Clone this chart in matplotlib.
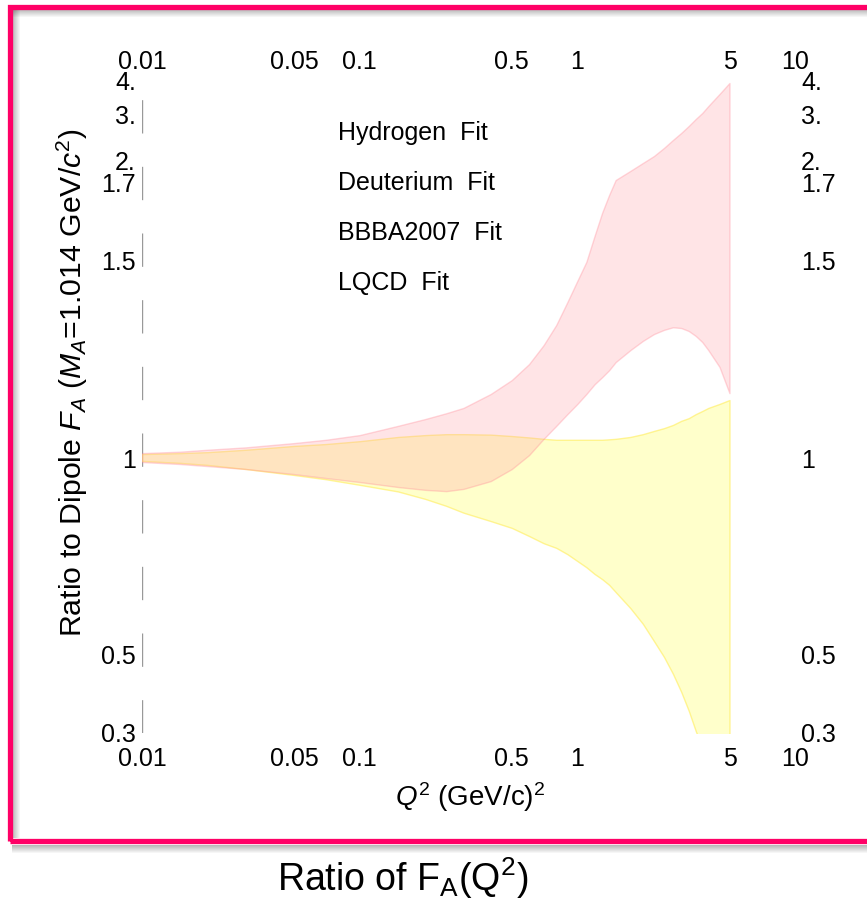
import numpy as np
import matplotlib
matplotlib.use("Agg")
import matplotlib.pyplot as plt
from matplotlib.patches import Rectangle
from matplotlib.ticker import NullLocator

plt.rcParams['font.family'] = ['Liberation Sans', 'DejaVu Sans']
plt.rcParams['mathtext.fontset'] = 'custom'
plt.rcParams['mathtext.rm'] = 'Liberation Sans'
plt.rcParams['mathtext.it'] = 'Liberation Sans:italic'
plt.rcParams['lines.scale_dashes'] = False

# Q^2 grid (GeV/c)^2 and the two error bands (ratio to dipole)
q2 = [0.01, 0.015, 0.02, 0.03, 0.05, 0.07, 0.1, 0.15, 0.2, 0.25, 0.3, 0.4,
      0.5, 0.6, 0.7, 0.8, 0.9, 1.0, 1.1, 1.2, 1.3, 1.4, 1.5, 1.75, 2.0,
      2.25, 2.5, 2.75, 3.0, 3.25, 3.5, 3.75, 4.0, 4.5, 5.0]
pink_hi = [1.010, 1.013, 1.017, 1.022, 1.031, 1.038, 1.048, 1.068, 1.083,
           1.096, 1.108, 1.140, 1.173, 1.212, 1.260, 1.313, 1.376, 1.437,
           1.494, 1.559, 1.618, 1.665, 1.726, 1.851, 1.969, 2.090, 2.243,
           2.407, 2.560, 2.723, 2.896, 3.050, 3.230, 3.565, 3.903]
pink_lo = [0.986, 0.979, 0.972, 0.962, 0.945, 0.932, 0.919, 0.903, 0.894,
           0.890, 0.897, 0.922, 0.962, 1.006, 1.040, 1.068, 1.094, 1.117,
           1.140, 1.163, 1.180, 1.197, 1.217, 1.247, 1.271, 1.289, 1.300,
           1.307, 1.305, 1.297, 1.284, 1.268, 1.247, 1.205, 1.142]
yellow_hi = [1.008, 1.010, 1.012, 1.017, 1.025, 1.029, 1.035, 1.044, 1.048,
             1.050, 1.050, 1.049, 1.046, 1.043, 1.040, 1.038, 1.038, 1.038,
             1.038, 1.038, 1.038, 1.039, 1.040, 1.044, 1.050, 1.057, 1.063,
             1.070, 1.079, 1.085, 1.094, 1.101, 1.108, 1.117, 1.126]
yellow_lo = [0.990, 0.983, 0.976, 0.962, 0.942, 0.928, 0.910, 0.889, 0.866,
             0.845, 0.825, 0.801, 0.782, 0.760, 0.741, 0.729, 0.713, 0.696,
             0.681, 0.665, 0.653, 0.640, 0.624, 0.590, 0.558, 0.525, 0.494,
             0.442, 0.393, 0.347, 0.304, 0.272, 0.243, 0.215, 0.195]

fit_names = ["Hydrogen  Fit", "Deuterium  Fit", "BBBA2007  Fit", "LQCD  Fit"]

x_ticks = [0.01, 0.05, 0.1, 0.5, 1, 5, 10]
x_tick_text = ["0.01", "0.05", "0.1", "0.5", "1", "5", "10"]
y_ticks = [0.3, 0.5, 1, 1.5, 1.7, 2, 3, 4]
y_tick_text = ["0.3", "0.5", "1", "1.5", "1.7", "2.", "3.", "4."]
# height of each ratio tick above the 0.3 line (the axis is not a plain log)
y_tick_height = [0, 78, 275, 473, 551, 572, 618, 653]

lv_anchor = np.log10(y_ticks)
h_anchor = np.array(y_tick_height, float)
lo_slope = (h_anchor[1] - h_anchor[0]) / (lv_anchor[1] - lv_anchor[0])
hi_slope = (h_anchor[-1] - h_anchor[-2]) / (lv_anchor[-1] - lv_anchor[-2])


def ratio_fwd(v):
    lv = np.log10(np.clip(np.asarray(v, float), 1e-9, None))
    out = np.interp(lv, lv_anchor, h_anchor)
    out = np.where(lv < lv_anchor[0], h_anchor[0] + (lv - lv_anchor[0]) * lo_slope, out)
    out = np.where(lv > lv_anchor[-1], h_anchor[-1] + (lv - lv_anchor[-1]) * hi_slope, out)
    return out


def ratio_inv(p):
    p = np.asarray(p, float)
    out = np.interp(p, h_anchor, lv_anchor)
    out = np.where(p < h_anchor[0], lv_anchor[0] + (p - h_anchor[0]) / lo_slope, out)
    out = np.where(p > h_anchor[-1], lv_anchor[-1] + (p - h_anchor[-1]) / hi_slope, out)
    return 10 ** out


W, H = 867, 907
fig = plt.figure(figsize=(W / 100, H / 100), dpi=100)


def fx(px):
    return px / W


def fy(py):
    return 1 - py / H


ax = fig.add_axes([fx(142), fy(733), fx(795) - fx(142), fy(80) - fy(733)])
ax.set_xscale('log')
ax.set_yscale('function', functions=(ratio_fwd, ratio_inv))

ax.fill_between(q2, yellow_lo, yellow_hi, facecolor=(1, 1, 0.6, 0.5),
                edgecolor=(1, 0.93, 0.35, 0.6), linewidth=1.0, zorder=2)
ax.fill_between(q2, pink_lo, pink_hi, facecolor=(1, 0.62, 0.65, 0.27),
                edgecolor=(1, 0.55, 0.6, 0.35), linewidth=1.0, zorder=3)

ax.set_xlim(0.01, 10)
ax.set_ylim(0.3, 4)
ax.set_xticks(x_ticks, x_tick_text)
ax.set_yticks(y_ticks, y_tick_text)
ax.xaxis.set_minor_locator(NullLocator())
ax.yaxis.set_minor_locator(NullLocator())
ax.tick_params(axis='both', length=0, labelsize=18, right=True,
               labelright=True)
ax.tick_params(axis='x', pad=10)
ax.tick_params(axis='y', pad=4.5)
for sp in ax.spines.values():
    sp.set_visible(False)

# Q^2 labels repeated along the top edge
top = ax.secondary_xaxis('top')
top.set_xticks(x_ticks, x_tick_text)
top.xaxis.set_minor_locator(NullLocator())
top.tick_params(length=0, labelsize=18, pad=4)
top.spines['top'].set_visible(False)

ax.axvline(0.01, color='#999999', lw=1.0, dashes=(24, 24), zorder=1)

for i, name in enumerate(fit_names):
    ax.text(0.30, 0.919 - i * 0.0766, name, transform=ax.transAxes,
            fontsize=18, va='center', ha='left')

fig.text(fx(72), fy(383), r"Ratio to Dipole $F_A$ ($M_A$=1.014 GeV/$c^2$)",
         rotation=90, fontsize=21.8, ha='center', va='center')
fig.text(fx(470), fy(797), r"$Q^2$ (GeV/c)$^2$", fontsize=20,
         ha='center', va='center')

# slide frame: shadows, then the pink border
for k in range(8):
    a = 0.28 * (1 - k / 8)
    fig.add_artist(Rectangle((fx(12), fy(10 + k)), fx(W) - fx(12), 1 / H,
                             transform=fig.transFigure, color='black',
                             alpha=a, lw=0))
    fig.add_artist(Rectangle((fx(12 + k), fy(838)), 1 / W, fy(10) - fy(838),
                             transform=fig.transFigure, color='black',
                             alpha=a, lw=0))
    fig.add_artist(Rectangle((fx(12), fy(846 + k)), fx(W) - fx(12), 1 / H,
                             transform=fig.transFigure, color='black',
                             alpha=a, lw=0))
fig.add_artist(Rectangle((fx(9.5), fy(841)), fx(900) - fx(9.5), fy(6.5) - fy(841),
                         transform=fig.transFigure, fill=False,
                         edgecolor='#ff0066', lw=3.8))

fig.text(fx(403), fy(878), r"Ratio of F$_{\mathrm{A}}$(Q$^{2}$)", fontsize=27,
         ha='center', va='center')

fig.savefig("out.png", dpi=100)
